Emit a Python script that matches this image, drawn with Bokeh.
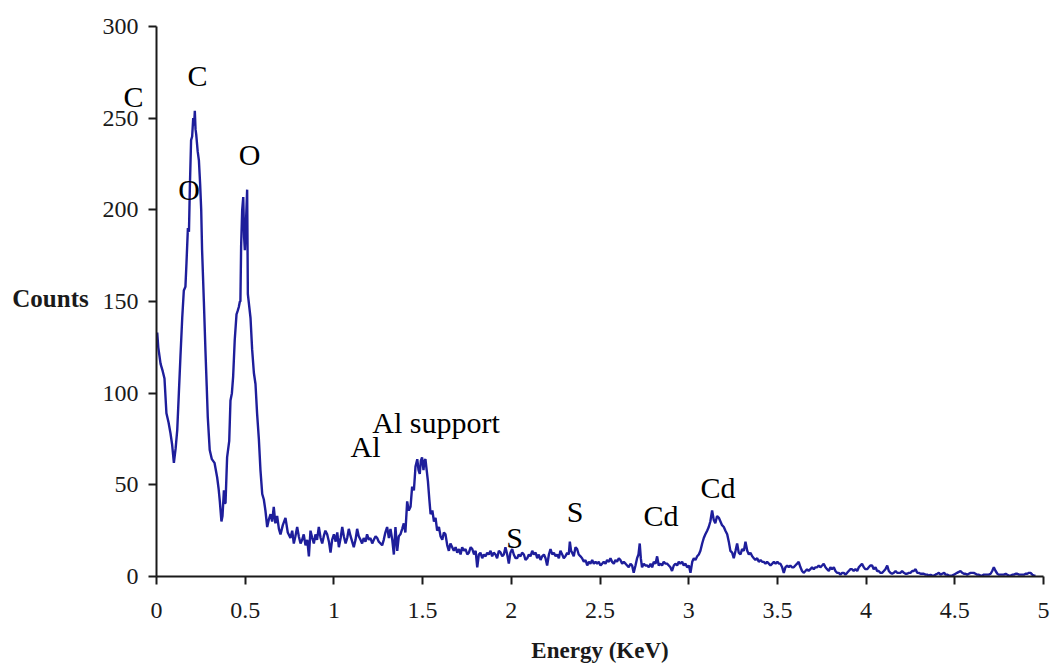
from bokeh.plotting import figure
from bokeh.models import ColumnDataSource, FixedTicker, Label
from bokeh.embed import file_html
from bokeh.resources import INLINE

# ---- data ----
energy_kev = [
    0.000, 0.004, 0.010, 0.023, 0.035, 0.045, 0.056, 0.068, 0.079, 0.088, 0.098, 0.108, 0.117, 0.126,
    0.135, 0.145, 0.154, 0.163, 0.169, 0.177, 0.183, 0.188, 0.195, 0.201, 0.207, 0.212, 0.216, 0.220,
    0.224, 0.232, 0.239, 0.246, 0.252, 0.257, 0.262, 0.267, 0.276, 0.283, 0.289, 0.300, 0.312, 0.327,
    0.342, 0.350, 0.357, 0.366, 0.372, 0.380, 0.385, 0.389, 0.398, 0.410, 0.417, 0.425, 0.432, 0.441,
    0.451, 0.458, 0.464, 0.470, 0.473, 0.477, 0.483, 0.489, 0.494, 0.498, 0.505, 0.511, 0.515, 0.530,
    0.539, 0.549, 0.558, 0.567, 0.577, 0.586, 0.596, 0.605, 0.614, 0.624, 0.633, 0.643, 0.652, 0.661,
    0.670, 0.680, 0.690, 0.699, 0.712, 0.727, 0.740, 0.755, 0.765, 0.774, 0.783, 0.793, 0.802, 0.812,
    0.821, 0.830, 0.840, 0.850, 0.859, 0.868, 0.878, 0.887, 0.896, 0.905, 0.915, 0.925, 0.934, 0.943,
    0.952, 0.962, 0.972, 0.981, 0.990, 1.000, 1.010, 1.019, 1.028, 1.038, 1.047, 1.056, 1.066, 1.075,
    1.084, 1.094, 1.103, 1.112, 1.122, 1.131, 1.140, 1.150, 1.159, 1.168, 1.178, 1.187, 1.197, 1.206,
    1.216, 1.225, 1.235, 1.244, 1.253, 1.263, 1.272, 1.281, 1.290, 1.300, 1.310, 1.319, 1.329, 1.338,
    1.347, 1.357, 1.366, 1.375, 1.385, 1.394, 1.403, 1.413, 1.422, 1.432, 1.441, 1.451, 1.460, 1.470,
    1.477, 1.484, 1.490, 1.497, 1.505, 1.510, 1.516, 1.523, 1.530, 1.538, 1.545, 1.555, 1.564, 1.573,
    1.582, 1.592, 1.601, 1.611, 1.620, 1.629, 1.639, 1.648, 1.657, 1.667, 1.676, 1.686, 1.695, 1.705,
    1.714, 1.723, 1.733, 1.742, 1.752, 1.761, 1.771, 1.780, 1.790, 1.799, 1.808, 1.817, 1.826, 1.836,
    1.845, 1.855, 1.864, 1.873, 1.883, 1.892, 1.901, 1.911, 1.920, 1.930, 1.940, 1.949, 1.958, 1.967,
    1.977, 1.986, 1.995, 2.005, 2.014, 2.024, 2.033, 2.042, 2.052, 2.061, 2.071, 2.080, 2.090, 2.099,
    2.108, 2.118, 2.127, 2.137, 2.146, 2.155, 2.165, 2.174, 2.184, 2.193, 2.202, 2.212, 2.221, 2.231,
    2.240, 2.250, 2.259, 2.268, 2.277, 2.287, 2.296, 2.305, 2.315, 2.324, 2.330, 2.337, 2.343, 2.352,
    2.362, 2.371, 2.380, 2.390, 2.399, 2.409, 2.418, 2.428, 2.437, 2.446, 2.456, 2.465, 2.475, 2.484,
    2.493, 2.503, 2.512, 2.521, 2.531, 2.540, 2.550, 2.559, 2.568, 2.578, 2.587, 2.596, 2.606, 2.615,
    2.625, 2.634, 2.644, 2.653, 2.662, 2.672, 2.681, 2.690, 2.700, 2.709, 2.717, 2.724, 2.730, 2.737,
    2.747, 2.756, 2.766, 2.775, 2.785, 2.794, 2.803, 2.813, 2.822, 2.831, 2.841, 2.850, 2.859, 2.869,
    2.878, 2.888, 2.897, 2.906, 2.916, 2.925, 2.935, 2.944, 2.953, 2.963, 2.972, 2.982, 2.991, 3.001,
    3.010, 3.020, 3.029, 3.038, 3.048, 3.057, 3.066, 3.076, 3.085, 3.094, 3.104, 3.113, 3.122, 3.132,
    3.141, 3.150, 3.160, 3.170, 3.179, 3.188, 3.198, 3.207, 3.217, 3.226, 3.235, 3.245, 3.254, 3.264,
    3.273, 3.282, 3.292, 3.301, 3.311, 3.320, 3.330, 3.339, 3.348, 3.358, 3.367, 3.376, 3.386, 3.395,
    3.405, 3.414, 3.423, 3.433, 3.442, 3.452, 3.461, 3.471, 3.480, 3.490, 3.500, 3.509, 3.517, 3.527,
    3.536, 3.545, 3.555, 3.564, 3.573, 3.583, 3.592, 3.601, 3.611, 3.620, 3.630, 3.639, 3.648, 3.658,
    3.667, 3.676, 3.686, 3.695, 3.705, 3.714, 3.724, 3.733, 3.742, 3.752, 3.761, 3.771, 3.780, 3.790,
    3.799, 3.808, 3.818, 3.827, 3.836, 3.846, 3.855, 3.865, 3.874, 3.883, 3.893, 3.902, 3.912, 3.921,
    3.930, 3.940, 3.950, 3.959, 3.968, 3.977, 3.987, 3.996, 4.006, 4.015, 4.024, 4.034, 4.043, 4.053,
    4.062, 4.071, 4.081, 4.090, 4.100, 4.109, 4.119, 4.128, 4.137, 4.147, 4.156, 4.166, 4.175, 4.184,
    4.194, 4.203, 4.213, 4.222, 4.231, 4.241, 4.250, 4.260, 4.269, 4.279, 4.288, 4.297, 4.307, 4.316,
    4.325, 4.335, 4.344, 4.354, 4.363, 4.372, 4.382, 4.391, 4.401, 4.410, 4.420, 4.429, 4.440, 4.448,
    4.457, 4.467, 4.476, 4.485, 4.495, 4.504, 4.513, 4.523, 4.532, 4.542, 4.551, 4.560, 4.570, 4.579,
    4.589, 4.598, 4.607, 4.617, 4.626, 4.636, 4.645, 4.654, 4.664, 4.673, 4.683, 4.692, 4.702, 4.711,
    4.720, 4.730, 4.740, 4.749, 4.758, 4.768, 4.777, 4.787, 4.796, 4.805, 4.815, 4.824, 4.833, 4.843,
    4.852, 4.862, 4.871, 4.880, 4.890, 4.899, 4.909, 4.918, 4.927, 4.937, 4.946, 4.955,
]

counts = [
    128, 133, 125, 116, 112, 108, 89, 84, 78, 72, 62, 70, 80, 100,
    120, 141, 156, 158, 171, 190, 188, 212, 238, 240, 250, 246, 254, 244,
    241, 232, 227, 214, 200, 178, 164, 150, 123, 104, 87, 69, 64, 62,
    54, 48, 41, 30, 33, 47, 40, 40, 65, 74, 96, 100, 109, 129,
    143, 145, 147, 150, 150, 180, 200, 207, 185, 178, 195, 211, 154, 141,
    124, 111, 105, 89, 75, 58, 45, 42, 36, 27, 31, 34, 30, 38,
    29, 33, 26, 23, 28, 32, 24, 21, 25, 18, 22, 27, 22, 18,
    20, 23, 17, 20, 11, 25, 21, 18, 23, 20, 27, 21, 18, 22,
    25, 23, 19, 13, 20, 23, 19, 24, 16, 21, 27, 22, 18, 21,
    26, 22, 19, 16, 20, 26, 22, 20, 18, 21, 19, 23, 20, 21,
    18, 20, 22, 21, 19, 18, 17, 20, 24, 27, 21, 26, 20, 12,
    27, 14, 22, 23, 26, 29, 24, 41, 36, 38, 49, 47, 60, 64,
    58, 56, 63, 65, 58, 63, 64, 58, 52, 42, 34, 36, 30, 32,
    25, 27, 22, 20, 24, 23, 17, 14, 18, 16, 14, 16, 13, 15,
    12, 16, 14, 15, 12, 13, 16, 15, 12, 14, 5, 12, 13, 10,
    12, 11, 13, 12, 14, 11, 13, 12, 10, 14, 13, 11, 12, 16,
    12, 7, 13, 15, 12, 10, 10, 12, 11, 13, 12, 9, 10, 12,
    11, 14, 12, 13, 10, 12, 9, 11, 12, 10, 6, 12, 15, 12,
    13, 11, 12, 10, 14, 12, 10, 11, 13, 12, 19, 14, 13, 11,
    16, 15, 12, 11, 10, 8, 9, 6, 8, 7, 9, 7, 8, 7,
    8, 6, 7, 8, 7, 9, 8, 10, 8, 7, 9, 8, 10, 9,
    7, 8, 7, 6, 5, 7, 6, 2, 6, 10, 12, 18, 10, 5,
    7, 6, 6, 5, 7, 5, 8, 7, 11, 6, 7, 6, 8, 7,
    7, 6, 5, 3, 6, 7, 6, 8, 7, 8, 6, 7, 5, 6,
    2, 8, 10, 9, 11, 12, 14, 18, 21, 23, 25, 27, 30, 36,
    31, 29, 33, 32, 30, 28, 27, 25, 23, 19, 14, 13, 10, 14,
    18, 13, 12, 15, 14, 19, 14, 12, 13, 11, 10, 9, 10, 8,
    9, 8, 8, 7, 8, 7, 6, 7, 8, 7, 8, 7, 7, 5,
    2, 5, 6, 5, 6, 5, 5, 6, 7, 8, 5, 3, 2, 3,
    4, 3, 4, 5, 4, 5, 5, 6, 5, 6, 7, 5, 4, 3,
    5, 4, 5, 3, 2, 2, 1, 2, 2, 1, 2, 3, 4, 4,
    3, 4, 3, 5, 6, 7, 5, 4, 4, 5, 6, 6, 4, 5,
    3, 3, 2, 2, 3, 4, 6, 3, 2, 1.5, 2, 3, 2, 2,
    2, 3, 2, 1.5, 1.5, 2, 2, 3, 3, 4, 2, 2, 1.5, 1.5,
    1.5, 1, 1, 0.5, 1, 0.5, 0.5, 1, 1.5, 2, 1, 1.5, 2, 1,
    1, 0.5, 0.5, 0.5, 1, 1.5, 2, 2.5, 3, 2, 1.5, 1.5, 1, 1.5,
    2, 2, 2, 1.5, 1, 1, 0.5, 0.5, 1, 1, 1, 1, 1.5, 3,
    5, 3, 1.5, 1, 1, 1, 1, 1.5, 1, 0.5, 0.5, 1, 1, 1.5,
    1.5, 1, 1, 1, 1, 1.5, 1.5, 2, 2, 1, 0.5, 0.5,
]

x_ticks = [0, 0.5, 1, 1.5, 2, 2.5, 3, 3.5, 4, 4.5, 5]
x_tick_labels = ["0", "0.5", "1", "1.5", "2", "2.5", "3", "3.5", "4", "4.5", "5"]
y_ticks = [0, 50, 100, 150, 200, 250, 300]

peak_text = ["C", "C", "O", "O", "Al", "Al support", "S", "S", "Cd", "Cd"]
peak_x = [-0.130, 0.231, 0.183, 0.524, 1.178, 1.576, 2.018, 2.359, 2.844, 3.165]
peak_y = [261.9, 273.3, 211.1, 230.2, 70.9, 84.0, 21.3, 35.5, 33.3, 48.6]

y_title = "Counts"
y_title_x, y_title_y = -0.5975, 151.7

SERIF = "Liberation Serif"

p = figure(width=1055, height=668, output_backend="svg", toolbar_location=None,
           x_range=(0, 5), y_range=(0, 300),
           min_border_left=156, min_border_right=12, min_border_top=26, min_border_bottom=92)
p.outline_line_color = None
p.background_fill_color = "white"
p.border_fill_color = "white"
p.xgrid.visible = False
p.ygrid.visible = False

src = ColumnDataSource(dict(energy=energy_kev, counts=counts))
p.line("energy", "counts", source=src, line_color="#1e1e9b", line_width=2.4)

for ax in (p.xaxis[0], p.yaxis[0]):
    ax.axis_line_color = "#1a1a1a"
    ax.axis_line_width = 2
    ax.major_tick_line_color = "#1a1a1a"
    ax.major_tick_line_width = 2
    ax.major_tick_in = 0
    ax.major_tick_out = 8
    ax.minor_tick_line_color = None
    ax.major_label_text_font = SERIF
    ax.major_label_text_font_size = "24px"
    ax.major_label_text_color = "#1a1a1a"
    ax.axis_label_text_font = SERIF
    ax.axis_label_text_font_style = "bold"
    ax.axis_label_text_color = "#1a1a1a"

p.xaxis.ticker = FixedTicker(ticks=x_ticks)
p.xaxis.major_label_overrides = {t: l for t, l in zip(x_ticks, x_tick_labels)}
p.xaxis.major_label_standoff = 18
p.xaxis.axis_label = "Energy (KeV)"
p.xaxis.axis_label_text_font_size = "23px"
p.xaxis.axis_label_standoff = 17

p.yaxis.ticker = FixedTicker(ticks=y_ticks)
p.yaxis.major_label_standoff = 10

# y title drawn horizontally in the left panel (so it is not clipped by the frame)
p.add_layout(Label(x=y_title_x, y=y_title_y, text=y_title, text_font=SERIF,
                   text_font_size="25px", text_font_style="bold", text_color="#1a1a1a",
                   text_align="center", text_baseline="middle"), "left")

for t, x, y in zip(peak_text, peak_x, peak_y):
    lbl = Label(x=x, y=y, text=t, text_font=SERIF, text_font_size="30px",
                text_color="black", text_align="center", text_baseline="alphabetic")
    p.add_layout(lbl, "left" if x < 0 else "center")

open("out.html", "w").write(file_html(p, INLINE))
